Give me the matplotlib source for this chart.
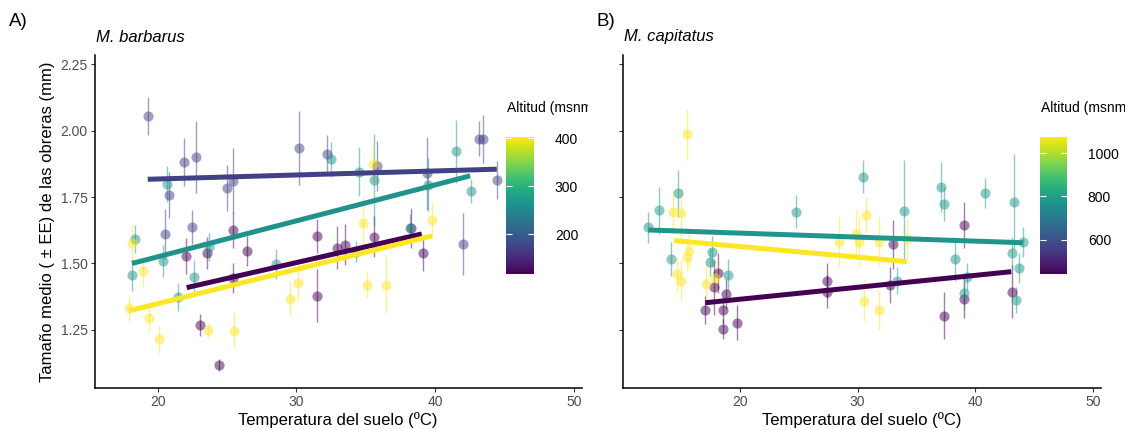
import numpy as np
import matplotlib
matplotlib.use("Agg")
import matplotlib.pyplot as plt
from matplotlib.colors import Normalize
from matplotlib.cm import ScalarMappable
from matplotlib.transforms import Bbox, TransformedBbox

plt.rcParams['font.family'] = ['Liberation Sans', 'DejaVu Sans']

# ---------------- data: M. barbarus (panel A) ----------------
alt_A = [117, 172, 262, 403]

tA_117 = [22.04, 23.53, 25.45, 26.42, 25.45, 23.05, 24.44, 31.51, 31.51, 32.9, 33.5, 35.6, 38.29, 39.1]
mA_117 = [1.528, 1.538, 1.626, 1.547, 1.444, 1.268, 1.118, 1.604, 1.378, 1.56, 1.57, 1.601, 1.632, 1.538]
eA_117 = [0.066, 0.060, 0.069, 0.056, 0.056, 0.041, 0.024, 0.065, 0.10, 0.08, 0.077, 0.078, 0.075, 0.066]

tA_172 = [19.28, 21.9, 22.76, 20.84, 20.55, 22.45, 25.0, 25.45, 30.2, 32.23, 35.79, 39.39, 43.19, 43.48, 44.48, 42.04]
mA_172 = [2.056, 1.883, 1.90, 1.758, 1.61, 1.639, 1.783, 1.812, 1.936, 1.911, 1.867, 1.84, 1.969, 1.969, 1.814, 1.573]
eA_172 = [0.072, 0.09, 0.136, 0.086, 0.094, 0.064, 0.086, 0.122, 0.139, 0.072, 0.094, 0.138, 0.066, 0.091, 0.071, 0.116]

tA_262 = [18.36, 18.15, 20.65, 20.36, 22.64, 23.72, 21.44, 28.53, 32.52, 34.54, 35.6, 39.49, 41.5, 42.57, 34.3, 38.19]
mA_262 = [1.592, 1.455, 1.80, 1.51, 1.45, 1.561, 1.375, 1.498, 1.893, 1.846, 1.814, 1.796, 1.922, 1.773, 1.545, 1.632]
eA_262 = [0.052, 0.06, 0.067, 0.06, 0.063, 0.052, 0.053, 0.055, 0.066, 0.093, 0.173, 0.10, 0.119, 0.046, 0.041, 0.056]

tA_403 = [18.15, 18.96, 17.95, 19.35, 20.12, 23.63, 25.5, 29.5, 30.12, 34.82, 35.1, 36.46, 39.78, 35.5]
mA_403 = [1.578, 1.47, 1.331, 1.294, 1.215, 1.25, 1.246, 1.367, 1.428, 1.651, 1.419, 1.419, 1.664, 1.873]
eA_403 = [0.067, 0.055, 0.048, 0.049, 0.051, 0.03, 0.066, 0.065, 0.069, 0.10, 0.05, 0.107, 0.063, 0.07]

# fitted line endpoints (temperature range, fitted size)
fitA_x0 = [22.09, 19.28, 18.15, 17.95]
fitA_x1 = [39.03, 44.44, 42.52, 39.78]
fitA_y0 = [1.409, 1.817, 1.50, 1.322]
fitA_y1 = [1.611, 1.855, 1.83, 1.604]

# ---------------- data: M. capitatus (panel B) ----------------
alt_B = [440, 772, 1077]

tB_440 = [18.13, 17.79, 18.87, 17.08, 18.55, 18.59, 19.78, 27.38, 27.38, 33.02, 32.77, 39.0, 39.0, 37.36, 43.1]
mB_440 = [1.463, 1.41, 1.385, 1.325, 1.325, 1.252, 1.277, 1.435, 1.394, 1.572, 1.419, 1.645, 1.365, 1.304, 1.394]
eB_440 = [0.075, 0.104, 0.056, 0.053, 0.05, 0.038, 0.066, 0.066, 0.063, 0.092, 0.069, 0.088, 0.069, 0.088, 0.10]

tB_772 = [12.26, 13.17, 14.81, 14.16, 17.65, 17.45, 18.98, 24.74, 30.42, 33.9, 37.08, 37.3, 40.85, 43.27, 44.03, 43.1, 43.7, 43.47, 38.3, 39.0, 39.3, 33.34]
mB_772 = [1.636, 1.70, 1.764, 1.516, 1.544, 1.504, 1.457, 1.695, 1.827, 1.699, 1.789, 1.723, 1.764, 1.733, 1.582, 1.538, 1.482, 1.363, 1.517, 1.39, 1.45, 1.435]
eB_772 = [0.058, 0.088, 0.088, 0.063, 0.058, 0.053, 0.06, 0.061, 0.063, 0.19, 0.094, 0.065, 0.056, 0.18, 0.056, 0.063, 0.056, 0.05, 0.084, 0.066, 0.05, 0.05]

tB_1077 = [15.52, 14.38, 15.04, 15.72, 15.52, 14.72, 15.04, 17.17, 17.93, 28.43, 29.85, 30.14, 30.71, 30.57, 31.83, 34.19, 31.83]
mB_1077 = [1.986, 1.693, 1.689, 1.547, 1.526, 1.46, 1.435, 1.423, 1.444, 1.582, 1.611, 1.582, 1.683, 1.36, 1.582, 1.591, 1.325]
eB_1077 = [0.097, 0.082, 0.093, 0.066, 0.06, 0.066, 0.078, 0.075, 0.06, 0.094, 0.09, 0.094, 0.067, 0.078, 0.092, 0.075, 0.075]

fitB_x0 = [17.08, 12.26, 14.44]
fitB_x1 = [43.04, 44.03, 34.19]
fitB_y0 = [1.352, 1.626, 1.586]
fitB_y1 = [1.469, 1.578, 1.507]

yticks = [1.25, 1.50, 1.75, 2.00, 2.25]
xticks = [20, 30, 40, 50]

W, H = 1132, 430
fig = plt.figure(figsize=(W / 100, H / 100), dpi=100)


def fx(px):
    return px / W


def fy(py):
    return 1 - py / H


def panel(rect, groups, fits, alts, xlim, show_ylabels):
    ax = fig.add_axes(rect)
    norm = Normalize(vmin=min(alts), vmax=max(alts))
    cmap = plt.get_cmap('viridis')
    for (t, m, e), a in zip(groups, alts):
        c = cmap(norm(a))
        ax.errorbar(t, m, yerr=e, fmt='o', color=c, ecolor=c, alpha=0.5,
                    markersize=7.3, markeredgewidth=0, elinewidth=1.0,
                    capsize=1.2, capthick=1.0, zorder=2)
    for (x0, x1, y0, y1), a in zip(fits, alts):
        ax.plot([x0, x1], [y0, y1], color=cmap(norm(a)), lw=3.6,
                solid_capstyle='butt', zorder=3)
    ax.set_xlim(*xlim)
    ax.set_ylim(1.031, 2.285)
    ax.set_xticks(xticks)
    ax.set_yticks(yticks)
    ax.set_yticklabels([f"{v:.2f}" for v in yticks] if show_ylabels else [])
    for s in ['top', 'right']:
        ax.spines[s].set_visible(False)
    for s in ['left', 'bottom']:
        ax.spines[s].set_linewidth(1.1)
        ax.spines[s].set_color('black')
    ax.tick_params(axis='both', length=3, width=0.8, color='#333333',
                   labelcolor='#4d4d4d', labelsize=10, pad=2)
    ax.set_xlabel('Temperatura del suelo (ºC)', fontsize=12, labelpad=2)
    return ax, norm, cmap


axA, normA, cmapA = panel([fx(94.7), fy(388), fx(581.7) - fx(94.7), fy(55) - fy(388)],
                          [(tA_117, mA_117, eA_117), (tA_172, mA_172, eA_172),
                           (tA_262, mA_262, eA_262), (tA_403, mA_403, eA_403)],
                          list(zip(fitA_x0, fitA_x1, fitA_y0, fitA_y1)), alt_A,
                          (15.46, 50.56), True)
axA.set_ylabel('Tamaño medio ( ± EE) de las obreras (mm)', fontsize=12, labelpad=4)

axB, normB, cmapB = panel([fx(623.3), fy(388), fx(1101) - fx(623.3), fy(55) - fy(388)],
                          [(tB_440, mB_440, eB_440), (tB_772, mB_772, eB_772),
                           (tB_1077, mB_1077, eB_1077)],
                          list(zip(fitB_x0, fitB_x1, fitB_y0, fitB_y1)), alt_B,
                          (10.13, 50.65), False)


def colorbar(x0, x1, ticks, norm, cmap, title_x, clip_x):
    cax = fig.add_axes([fx(x0), fy(274), fx(x1) - fx(x0), fy(136.7) - fy(274)])
    cb = fig.colorbar(ScalarMappable(norm=norm, cmap=cmap), cax=cax)
    cb.outline.set_visible(False)
    cb.set_ticks(ticks)
    cb.set_ticklabels([str(v) for v in ticks])
    cax.tick_params(axis='y', left=True, right=True, direction='in', length=4,
                    width=0.8, color='white', labelcolor='black', labelsize=10, pad=15)
    t = fig.text(fx(title_x), fy(108), 'Altitud (msnm)', fontsize=10,
                 ha='left', va='center', color='black')
    t.set_clip_box(TransformedBbox(Bbox.from_extents(0, 0, fx(clip_x), 1), fig.transFigure))
    t.set_clip_on(True)


colorbar(506, 534, [200, 300, 400], normA, cmapA, 506.7, 588)
colorbar(1040, 1067, [600, 800, 1000], normB, cmapB, 1040.7, 1125)

fig.text(fx(96), fy(37), 'M. barbarus', fontsize=12, style='italic', ha='left', va='center')
fig.text(fx(624), fy(37), 'M. capitatus', fontsize=12, style='italic', ha='left', va='center')
fig.text(fx(9), fy(22), 'A)', fontsize=13.5, ha='left', va='center')
fig.text(fx(597), fy(22), 'B)', fontsize=13.5, ha='left', va='center')

fig.savefig('out.png', dpi=100)
